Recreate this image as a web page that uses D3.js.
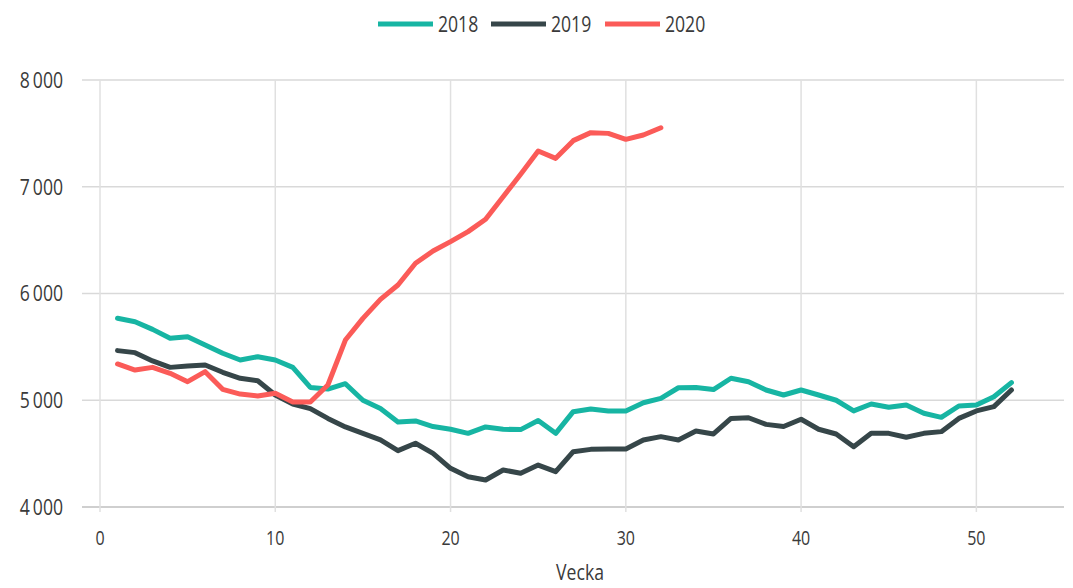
<!DOCTYPE html>
<html>
<head>
<meta charset="utf-8">
<script src="https://cdn.jsdelivr.net/npm/d3@7"></script>
<style>
  body { margin: 0; background: #fff; }
  text { font-family: "Open Sans", "Liberation Sans", sans-serif; fill: #3a3a3a; }
</style>
</head>
<body>
<div id="chart"></div>
<script>
'use strict';
// week numbers and yearly series
var weeks = d3.range(1, 53);
var years = ["2018", "2019", "2020"];
var yearColors = { "2018": "#17b5a3", "2019": "#364649", "2020": "#fb5b58" };

var values2018 = [5768, 5736, 5664, 5580, 5595, 5518, 5440, 5377, 5408, 5377,
    5308, 5120, 5105, 5155, 5000, 4922, 4797, 4806, 4754, 4728,
    4690, 4750, 4728, 4725, 4810, 4690, 4893, 4918, 4900, 4900,
    4977, 5018, 5117, 5120, 5100, 5206, 5174, 5096, 5049, 5096,
    5049, 5000, 4900, 4965, 4934, 4955, 4878, 4840, 4946, 4955,
    5033, 5165];
var values2019 = [5465, 5446, 5368, 5308, 5321, 5330, 5262, 5206, 5183, 5049,
    4965, 4922, 4830, 4750, 4690, 4628, 4528, 4597, 4503, 4362,
    4284, 4253, 4347, 4316, 4393, 4331, 4518, 4540, 4543, 4543,
    4628, 4659, 4628, 4712, 4684, 4830, 4836, 4774, 4754, 4822,
    4728, 4684, 4565, 4690, 4690, 4653, 4690, 4706, 4830, 4900,
    4940, 5096];
var values2020 = [5340, 5283, 5308, 5252, 5174, 5268, 5102, 5058, 5040, 5065,
    4984, 4984, 5143, 5564, 5767, 5945, 6080, 6283, 6398, 6486,
    6580, 6695, 6907, 7117, 7335, 7266, 7432, 7507, 7500, 7444,
    7485, 7553];

var xTicks = [0, 10, 20, 30, 40, 50];
var yTicks = [4000, 5000, 6000, 7000, 8000];
var xTitle = "Vecka";

var series = [
    { year: "2018", values: values2018 },
    { year: "2019", values: values2019 },
    { year: "2020", values: values2020 }
];

var width = 1073, height = 588;
var margin = { top: 80, right: 9, bottom: 81, left: 100 };

var svg = d3.select("#chart").append("svg")
    .attr("width", width)
    .attr("height", height);

var x = d3.scaleLinear().domain([0, 55]).range([margin.left, width - margin.right]);
var y = d3.scaleLinear().domain([4000, 8000]).range([height - margin.bottom, margin.top]);

var fmt = function (d) { return d3.format(",")(d).replace(",", "\u2009"); };

// narrow text: the original uses a condensed font, so squeeze it a bit
function narrowText(sel, size) {
    return sel.style("font-size", size + "px")
        .attr("transform", "scale(0.8,1)");
}

// horizontal gridlines
svg.append("g")
    .selectAll("line")
    .data(yTicks)
    .enter().append("line")
    .attr("x1", x(0) - 18)
    .attr("x2", x(55))
    .attr("y1", function (d) { return y(d); })
    .attr("y2", function (d) { return y(d); })
    .attr("stroke", function (d) { return d === 4000 ? "#cfcfcf" : "#d9d9d9"; })
    .attr("stroke-width", function (d) { return d === 4000 ? 2 : 1.5; });

// vertical gridlines
svg.append("g")
    .selectAll("line")
    .data(xTicks)
    .enter().append("line")
    .attr("x1", function (d) { return x(d); })
    .attr("x2", function (d) { return x(d); })
    .attr("y1", y(8000))
    .attr("y2", y(4000) + 5)
    .attr("stroke", "#e0e0e0")
    .attr("stroke-width", 1.5);

// y labels
var yLab = svg.append("g")
    .selectAll("g")
    .data(yTicks)
    .enter().append("g")
    .attr("transform", function (d) { return "translate(63," + y(d) + ")"; });
narrowText(yLab.append("text"), 22)
    .attr("dy", "0.36em")
    .attr("text-anchor", "end")
    .text(fmt);

// x labels
var xLab = svg.append("g")
    .selectAll("g")
    .data(xTicks)
    .enter().append("g")
    .attr("transform", function (d) { return "translate(" + x(d) + ",545)"; });
narrowText(xLab.append("text"), 20)
    .attr("text-anchor", "middle")
    .text(function (d) { return d; });

narrowText(svg.append("g")
    .attr("transform", "translate(580,580)")
    .append("text"), 22)
    .attr("text-anchor", "middle")
    .text(xTitle);

// lines
var line = d3.line()
    .x(function (d, i) { return x(weeks[i]); })
    .y(function (d) { return y(d); });

svg.append("g")
    .selectAll("path")
    .data(series)
    .enter().append("path")
    .attr("fill", "none")
    .attr("stroke", function (d) { return yearColors[d.year]; })
    .attr("stroke-width", 5)
    .attr("stroke-linejoin", "round")
    .attr("stroke-linecap", "round")
    .attr("d", function (d) { return line(d.values); });

// legend
var legendX = [378, 491, 605];
var legend = svg.append("g")
    .selectAll("g")
    .data(years)
    .enter().append("g")
    .attr("transform", function (d, i) { return "translate(" + legendX[i] + ",24)"; });

legend.append("line")
    .attr("x1", 0).attr("x2", 55)
    .attr("stroke", function (d) { return yearColors[d]; })
    .attr("stroke-width", 5);

narrowText(legend.append("g").attr("transform", "translate(60,0)").append("text"), 22)
    .attr("dy", "0.36em")
    .text(function (d) { return d; });
</script>
</body>
</html>
